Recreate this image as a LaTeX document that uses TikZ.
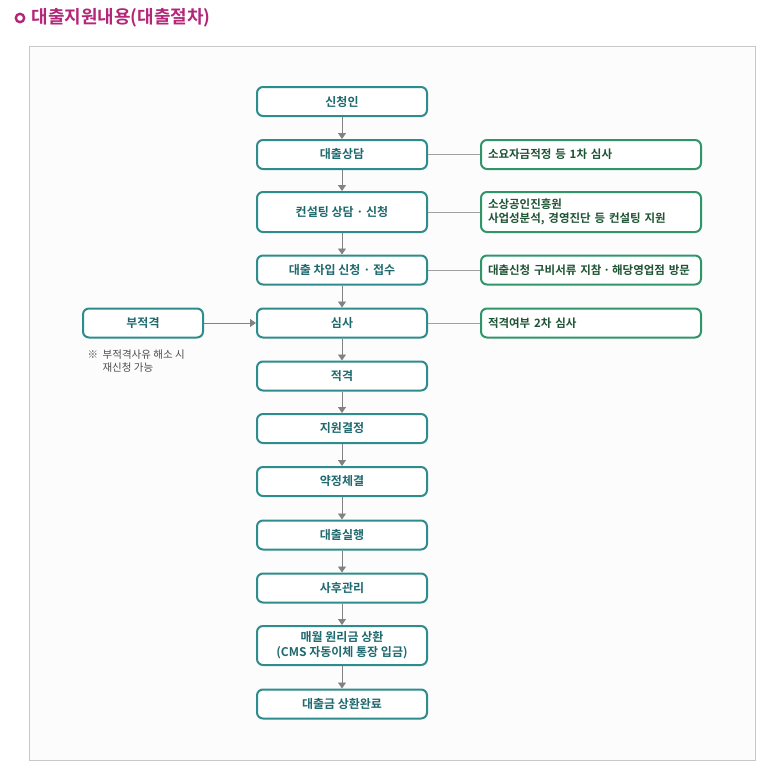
\documentclass[tikz,border=0pt]{standalone}
\usepackage{fontspec}
\usepackage{xcolor}
\usepackage{tikz}
\usetikzlibrary{arrows.meta,positioning}
\newfontfamily\kfont{Noto Sans CJK KR}
\newfontfamily\kfontb{Noto Sans CJK KR Bold}
\definecolor{TitleMagenta}{RGB}{179, 38,120}
\definecolor{StepTeal}    {RGB}{ 46,140,140}
\definecolor{StepText}    {RGB}{ 30,105,110}
\definecolor{NoteGreen}   {RGB}{ 48,150,106}
\definecolor{NoteText}    {RGB}{ 30, 84, 52}
\definecolor{FrameGray}   {RGB}{200,200,200}
\definecolor{FrameFill}   {RGB}{252,252,252}
\definecolor{LinkGray}    {RGB}{130,130,130}
\tikzset{
  stepbox/.style={draw=StepTeal, line width=2pt, rounded corners=6pt, fill=white,
    minimum width=170pt, minimum height=29pt, align=center,
    text=StepText, font=\kfontb\fontsize{12}{16}\selectfont},
  notebox/.style={draw=NoteGreen, line width=2pt, rounded corners=6pt, fill=white,
    minimum width=220pt, minimum height=29pt, align=left, text width=206pt,
    text=NoteText, font=\kfontb\fontsize{11.5}{14.5}\selectfont},
  flow/.style={draw=LinkGray, line width=0.9pt, -{Triangle[width=8pt,length=6pt]}},
  link/.style={draw=FrameGray!80!black, line width=0.8pt}
}
\begin{document}
\begin{tikzpicture}[x=1pt,y=-1pt]
  \useasboundingbox (0,0) rectangle (768,776);
  % title
  \draw[TitleMagenta, line width=2.4pt] (20,18) circle (4.2);
  \node[anchor=west, text=TitleMagenta, font=\kfontb\fontsize{18}{18}\selectfont]
    (title) at (28,17.5) {대출지원내용(대출절차)};
  % frame
  \draw[FrameGray, fill=FrameFill, line width=1pt] (29,47) rectangle (755,760);

  % main steps
  \node[stepbox] (s1)  at (342,101.5) {신청인};
  \node[stepbox] (s2)  at (342,154.5) {대출상담};
  \node[stepbox, minimum height=40pt] (s3) at (342,212) {컨설팅 상담 · 신청};
  \node[stepbox] (s4)  at (342,270)   {대출 차입 신청 · 접수};
  \node[stepbox] (s5)  at (342,323)   {심사};
  \node[stepbox] (s6)  at (342,376)   {적격};
  \node[stepbox] (s7)  at (342,428.5) {지원결정};
  \node[stepbox] (s8)  at (342,481.5) {약정체결};
  \node[stepbox] (s9)  at (342,535)   {대출실행};
  \node[stepbox] (s10) at (342,588)   {사후관리};
  \node[stepbox, minimum height=39pt, font=\kfontb\fontsize{12}{15}\selectfont]
    (s11) at (342,645.5) {매월 원리금 상환\\(CMS 자동이체 통장 입금)};
  \node[stepbox] (s12) at (342,704)   {대출금 상환완료};

  \foreach \a/\b in {s1/s2,s2/s3,s3/s4,s4/s5,s5/s6,s6/s7,s7/s8,s8/s9,s9/s10,s10/s11,s11/s12}
    \draw[flow] (\a.south) -- (\b.north);

  % side notes
  \node[notebox] (n2) at (591,154.5) {소요자금적정 등 1차 심사};
  \node[notebox, minimum height=40pt] (n3) at (591,212)
    {소상공인진흥원\\사업성분석, 경영진단 등 컨설팅 지원};
  \node[notebox] (n4) at (591,270) {대출신청 구비서류 지참\,·\,해당영업점 방문};
  \node[notebox] (n5) at (591,323) {적격여부 2차 심사};
  \foreach \a/\b in {s2/n2,s3/n3,s4/n4,s5/n5}
    \draw[link] (\a.east) -- (\b.west);

  % rejection branch
  \node[stepbox, minimum width=120pt] (rej) at (143,323) {부적격};
  \draw[flow] (rej.east) -- (s5.west);
  \node[anchor=north west, align=left, text=black!70,
        font=\kfont\fontsize{10.5}{13}\selectfont]
    (rejnote) at (84,346) {※\ \ 부적격사유 해소 시\\\hspace{15pt}재신청 가능};
\end{tikzpicture}
\end{document}
